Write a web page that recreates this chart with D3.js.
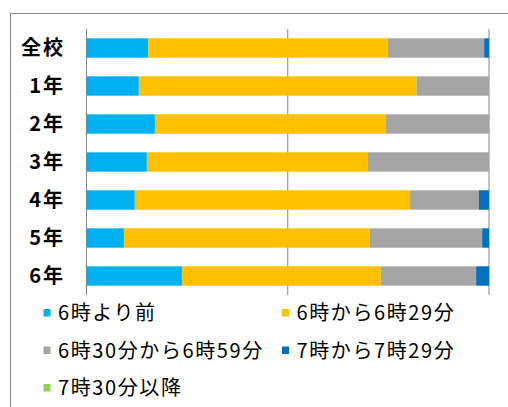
<!DOCTYPE html>
<html>
<head>
<meta charset="utf-8">
<script src="https://cdn.jsdelivr.net/npm/d3@7"></script>
<style>
  body { margin: 0; background: #fff; }
  svg { display: block; font-family: 'Noto Sans CJK JP', sans-serif; }
</style>
</head>
<body>
<script>
var width = 508
var height = 407

// data (percent)
var categories = ['全校', '1年', '2年', '3年', '4年', '5年', '6年']
var seriesNames = ['6時より前', '6時から6時29分', '6時30分から6時59分', '7時から7時29分', '7時30分以降']
var before6 = [15.3, 13.0, 17.0, 15.0, 12.0, 9.3, 23.7]
var from6to629 = [59.6, 69.0, 57.4, 54.8, 68.4, 61.1, 49.4]
var from630to659 = [23.9, 18.0, 25.6, 30.2, 17.1, 27.9, 23.7]
var from7to729 = [1.2, 0, 0, 0, 2.5, 1.7, 3.2]
var after730 = [0, 0, 0, 0, 0, 0, 0]
var colors = ['#00b0f0', '#ffc000', '#a5a5a5', '#0070c0', '#92d050']

var seriesValues = [before6, from6to629, from630to659, from7to729, after730]
var rows = categories.map(function (c, i) {
    var r = { cat: c }
    seriesNames.forEach(function (s, j) {
        r[s] = seriesValues[j][i]
    })
    return r
})

var svg = d3.select('body').append('svg').attr('width', width).attr('height', height)

// outer chart border
svg.append('rect')
    .attr('x', 10.5)
    .attr('y', 13.5)
    .attr('width', 520)
    .attr('height', 420)
    .attr('fill', '#fff')
    .attr('stroke', '#898989')
    .attr('stroke-width', 1)

var x = d3.scaleLinear().domain([0, 100]).range([86.5, 489])
var y = d3.scaleBand().domain(categories).range([29, 295]).paddingInner(0.49).paddingOuter(0.245)

// vertical gridlines
svg.append('g')
    .selectAll('line')
    .data([0, 50, 100])
    .enter()
    .append('line')
    .attr('x1', function (d) { return x(d) })
    .attr('x2', function (d) { return x(d) })
    .attr('y1', 29)
    .attr('y2', 295)
    .attr('stroke', '#868686')
    .attr('stroke-width', 1)

var stack = d3.stack().keys(seriesNames)
var layers = stack(rows)

svg.append('g')
    .selectAll('g')
    .data(layers)
    .enter()
    .append('g')
    .attr('fill', function (d, i) { return colors[i] })
    .selectAll('rect')
    .data(function (d) { return d })
    .enter()
    .append('rect')
    .attr('x', function (d) { return x(d[0]) })
    .attr('y', function (d) { return y(d.data.cat) })
    .attr('width', function (d) { return Math.max(0, x(d[1]) - x(d[0])) })
    .attr('height', y.bandwidth())

// category labels
svg.append('g')
    .selectAll('text')
    .data(categories)
    .enter()
    .append('text')
    .attr('x', 65)
    .attr('y', function (d) { return y(d) + y.bandwidth() / 2 })
    .attr('dy', '0.36em')
    .attr('text-anchor', 'end')
    .attr('font-size', 20)
    .attr('font-weight', 'bold')
    .attr('letter-spacing', 2)
    .attr('fill', '#000')
    .text(function (d) { return d })

// legend
var legendPos = [[43.5, 313], [282, 313], [43.5, 350.5], [282, 350.5], [43.5, 388]]
var legend = svg.append('g')
    .selectAll('g')
    .data(seriesNames)
    .enter()
    .append('g')
    .attr('transform', function (d, i) { return 'translate(' + legendPos[i][0] + ',' + legendPos[i][1] + ')' })

legend.append('rect')
    .attr('x', 0)
    .attr('y', -4)
    .attr('width', 7)
    .attr('height', 7.5)
    .attr('fill', function (d, i) { return colors[i] })

legend.append('text')
    .attr('x', 14.5)
    .attr('y', 0)
    .attr('dy', '0.36em')
    .attr('font-size', 20)
    .attr('letter-spacing', 1.6)
    .attr('fill', '#000')
    .text(function (d) { return d })
</script>
</body>
</html>
